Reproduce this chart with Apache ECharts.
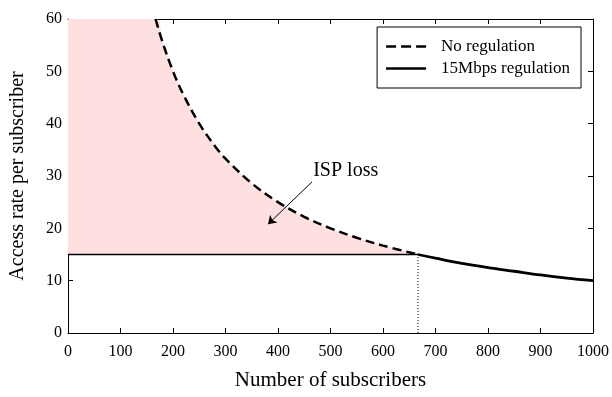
<!DOCTYPE html>
<html lang="en">
<head>
    <meta charset="UTF-8">
    <title>ISP loss</title>
    <script src="https://cdn.jsdelivr.net/npm/echarts@6/dist/echarts.min.js"></script>
    <style>
        html, body { margin: 0; padding: 0; background: #fff; }
        #main { width: 612px; height: 397px; }
    </style>
</head>
<body>
<div id="main"></div>
<script>
// values
var subscribers = [166.7, 180, 200, 220, 250, 280, 300, 350, 400, 450, 500, 550, 600, 666.7, 700, 750, 800, 850, 900, 950, 1000];
var rateNoReg   = [60, 55.6, 50, 45.5, 40, 35.7, 33.3, 28.6, 25, 22.2, 20, 18.2, 16.7, 15, 14.3, 13.3, 12.5, 11.8, 11.1, 10.5, 10];
var capRate = 15;      // 15Mbps regulation
var crossX = 666.7;    // where the curve meets the cap

var serif = 'Liberation Serif';

function pairs(xs, ys, from, to) {
    var out = [];
    for (var i = 0; i < xs.length; i++) {
        if (xs[i] >= from && xs[i] <= to) out.push([xs[i], ys[i]]);
    }
    return out;
}

var dashedPart = pairs(subscribers, rateNoReg, 0, crossX);
var tailPart = pairs(subscribers, rateNoReg, crossX, 1000);
var fillPart = [[0, 60]].concat(dashedPart);

var myChart = echarts.init(document.getElementById('main'));

var tickAxisCommon = {
    axisLine: { show: true, onZero: false, lineStyle: { color: '#000', width: 1 } },
    axisTick: { show: true, inside: true, length: 5, lineStyle: { color: '#000' } },
    splitLine: { show: false }
};

function plainNum(v) { return String(v); }

myChart.setOption({
    animation: false,
    grid: { left: 68, right: 19, top: 19, bottom: 64 },
    legend: {
        data: [
            { name: 'No regulation', icon: 'path://M0 0H10V2.5H0Z M15 0H25V2.5H15Z M30 0H40V2.5H30Z' },
            { name: '15Mbps regulation', icon: 'path://M0 0H40V2.5H0Z' }
        ],
        orient: 'vertical',
        right: 31,
        top: 27,
        itemWidth: 40,
        itemHeight: 2.5,
        itemGap: 5,
        padding: [11, 11, 11, 9],
        borderColor: '#000',
        borderWidth: 1,
        borderRadius: 0,
        itemStyle: { color: '#000' },
        textStyle: { fontFamily: serif, fontSize: 17, color: '#000', padding: [0, 0, 0, 10] }
    },
    xAxis: [
        Object.assign({
            type: 'value', min: 0, max: 1000, interval: 100,
            name: 'Number of subscribers',
            nameLocation: 'middle',
            nameGap: 37,
            nameTextStyle: { fontFamily: serif, fontSize: 21, color: '#000' },
            axisLabel: { fontFamily: serif, fontSize: 16, color: '#000', margin: 11, formatter: plainNum }
        }, tickAxisCommon),
        Object.assign({
            type: 'value', min: 0, max: 1000, interval: 100, position: 'top',
            axisLabel: { show: false }
        }, tickAxisCommon)
    ],
    yAxis: [
        Object.assign({
            type: 'value', min: 0, max: 60, interval: 10,
            name: 'Access rate per subscriber',
            nameLocation: 'middle',
            nameGap: 40,
            nameTextStyle: { fontFamily: serif, fontSize: 20, color: '#000' },
            axisLabel: { fontFamily: serif, fontSize: 16, color: '#000', margin: 6, formatter: plainNum }
        }, tickAxisCommon),
        Object.assign({
            type: 'value', min: 0, max: 60, interval: 10, position: 'right',
            axisLabel: { show: false }
        }, tickAxisCommon)
    ],
    series: [
        {
            name: 'loss area',
            type: 'line',
            data: fillPart,
            smooth: 0.35,
            symbol: 'none',
            lineStyle: { width: 0, opacity: 0 },
            areaStyle: { color: '#ffe0e0', opacity: 1, origin: capRate },
            silent: true,
            z: 1
        },
        {
            name: 'No regulation',
            type: 'line',
            data: dashedPart,
            smooth: 0.35,
            symbol: 'none',
            lineStyle: { color: '#000', width: 2.5, type: [9, 5] },
            itemStyle: { color: '#000' },
            z: 3,
            markLine: {
                silent: true,
                symbol: ['none', 'arrow'],
                symbolSize: 8,
                lineStyle: { color: '#000', width: 1, type: 'solid' },
                label: { show: false },
                data: [[{ coord: [465, 28.9] }, { coord: [381, 20.8] }]]
            },
            markPoint: {
                silent: true,
                symbol: 'circle',
                symbolSize: 0,
                label: {
                    show: true, position: 'right', distance: 0,
                    formatter: 'ISP loss',
                    fontFamily: serif, fontSize: 20, color: '#000'
                },
                data: [{ coord: [467, 31.0] }]
            }
        },
        {
            name: '15Mbps regulation',
            type: 'line',
            data: [[0, capRate], [crossX, capRate]],
            symbol: 'none',
            lineStyle: { color: '#000', width: 1.5 },
            itemStyle: { color: '#000' },
            z: 3
        },
        {
            name: '15Mbps regulation',
            type: 'line',
            data: tailPart,
            smooth: 0.35,
            symbol: 'none',
            lineStyle: { color: '#000', width: 2.8 },
            itemStyle: { color: '#000' },
            z: 4
        },
        {
            name: 'cross',
            type: 'line',
            data: [[crossX, 0], [crossX, capRate]],
            symbol: 'none',
            lineStyle: { color: '#000', width: 1, type: [1, 2] },
            z: 2
        }
    ]
});
</script>
</body>
</html>
